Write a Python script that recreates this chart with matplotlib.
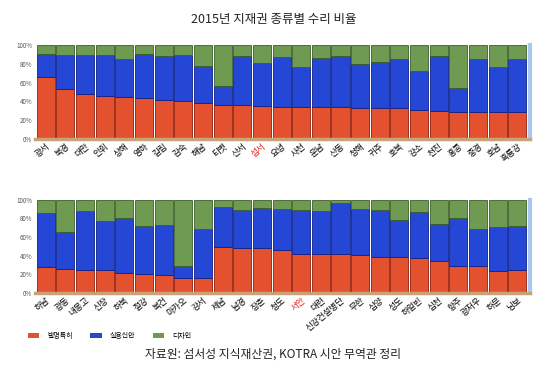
import matplotlib
matplotlib.use("Agg")
import matplotlib.pyplot as plt
import numpy as np
from matplotlib.patches import Patch

plt.rcParams['font.family'] = ['Noto Sans CJK KR', 'DejaVu Sans']

top_regions = ['광서', '북경', '대만', '안휘', '상해', '영하', '길림', '감숙', '해남', '티벳', '산서', '섬서', '요녕',
               '사천', '운남', '산동', '청해', '귀주', '호북', '강소', '천진', '홍콩', '중경', '호남', '흑룡강']
top_patent = [66, 53.5, 47.5, 46, 44.7, 44, 42, 40, 38, 36, 36, 35, 34,
              34.4, 34.4, 34, 33, 32.6, 32.6, 31, 30, 29, 29, 29, 29]
top_utility_cum = [90.4, 89.4, 89.4, 89.4, 85, 90, 88, 89, 77.7, 56.7, 88.7, 81, 87,
                   77, 86, 88, 80, 81.6, 85, 72.7, 88, 54.6, 85, 77, 85]

bot_regions = ['하남', '광동', '내몽고', '신장', '하북', '절강', '복건', '마카오', '강서', '제남', '남경', '장춘', '청도',
               '서안', '대련', '신강건설병단', '무한', '심양', '성도', '하얼빈', '심천', '항주', '광저우', '하문', '닝보']
bot_patent = [27.5, 25.7, 24, 24, 21.8, 20.7, 19.6, 16.4, 16.4, 49, 48, 48, 45.7,
              42, 41.4, 41.4, 40.7, 38.6, 38.6, 37, 34.6, 29.3, 29.3, 23.6, 24.6]
bot_utility_cum = [85.4, 65.7, 87.5, 77.5, 80, 71.8, 72.8, 28.6, 68.6, 91.8, 89.6, 91.4, 90.4,
                   88.6, 87.5, 96.4, 90.4, 89.3, 78.6, 86.8, 74, 80.4, 68.6, 70.4, 71.8]

highlight = ['섬서', '서안']
series_names = ['발명특허', '실용신안', '디자인']
colors = ['#E4512F', '#2447D6', '#6F9A52']
edges = ['#8E1F0C', '#0E1F8A', '#3C5E2A']
y_ticks = [0, 20, 40, 60, 80, 100]
title = '2015년 지재권 종류별 수리 비율'
source = '자료원: 섬서성 지식재산권, KOTRA 시안 무역관 정리'

fig = plt.figure(figsize=(5.47, 3.66), dpi=100)
fig.text(0.5, 0.948, title, ha='center', va='center', fontsize=9, color='#222222')

def panel(rect, regions, patent, util_cum):
    ax = fig.add_axes(rect)
    x = np.arange(len(regions))
    p = np.array(patent)
    u = np.array(util_cum) - p
    d = 100 - np.array(util_cum)
    w = 0.92
    ax.bar(x, p, width=w, color=colors[0], edgecolor=edges[0], linewidth=0.6)
    ax.bar(x, u, bottom=p, width=w, color=colors[1], edgecolor=edges[1], linewidth=0.6)
    ax.bar(x, d, bottom=p + u, width=w, color=colors[2], edgecolor=edges[2], linewidth=0.6)
    ax.set_xlim(-0.55, len(regions) - 0.35)
    ax.set_ylim(0, 100)
    ax.set_yticks(y_ticks)
    ax.set_yticklabels([f'{t}%' for t in y_ticks], fontsize=4.5, color='#555555')
    ax.set_xticks(x)
    ax.set_xticklabels(regions, rotation=40, ha='right', rotation_mode='anchor', fontsize=6.2)
    for lab in ax.get_xticklabels():
        if lab.get_text() in highlight:
            lab.set_color('#E0201A')
    ax.tick_params(axis='both', length=0, pad=2)
    for s in ['top', 'left']:
        ax.spines[s].set_visible(False)
    ax.spines['bottom'].set_color('#C9A27A')
    ax.spines['bottom'].set_linewidth(2.5)
    ax.spines['right'].set_color('#A9C8EE')
    ax.spines['right'].set_linewidth(3)
    return ax

panel([0.064, 0.620, 0.905, 0.257], top_regions, top_patent, top_utility_cum)
panel([0.064, 0.200, 0.905, 0.254], bot_regions, bot_patent, bot_utility_cum)

handles = [Patch(facecolor=c, edgecolor='none') for c in colors]
fig.legend(handles, series_names, loc='center left', bbox_to_anchor=(0.04, 0.082), ncol=3,
           frameon=False, fontsize=5, handlelength=1.6, handleheight=0.6, columnspacing=2.5,
           handletextpad=1.2)
fig.text(0.5, 0.032, source, ha='center', va='center', fontsize=8.5, color='#222222')

fig.savefig('out.png', dpi=100)
